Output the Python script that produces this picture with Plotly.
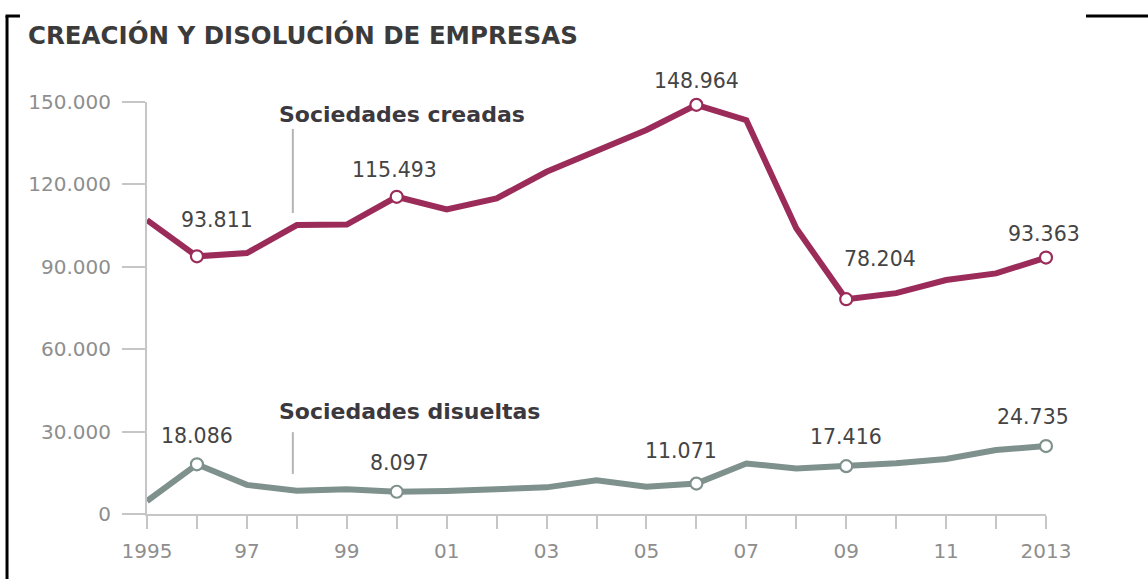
import plotly.graph_objects as go

# ---------------- data ----------------
years = list(range(1995, 2014))
creadas = [107000, 93811, 95000, 105200, 105400, 115493, 110900, 114900, 124600, 132300,
           139800, 148964, 143400, 104000, 78204, 80400, 85200, 87600, 93363]
disueltas = [4700, 18086, 10600, 8500, 9000, 8097, 8400, 9300, 9700, 12300,
             9900, 11071, 18400, 16600, 17416, 18500, 20000, 23300, 24735]
labeled_years = [1996, 2000, 2006, 2009, 2013]

x_tickvals = years
x_ticktext = ["1995", "", "97", "", "99", "", "01", "", "03", "", "05", "", "07", "", "09", "", "11", "", "2013"]
y_tickvals = [0, 30000, 60000, 90000, 120000, 150000]
y_ticktext = ["0", "30.000", "60.000", "90.000", "120.000", "150.000"]

title_text = "CREACIÓN Y DISOLUCIÓN DE EMPRESAS"
name_creadas = "Sociedades creadas"
name_disueltas = "Sociedades disueltas"

# ---------------- styles ----------------
C_CRE = "#9b2c5a"
C_DIS = "#7e918c"
AX = "#c6c6c6"
TICKFONT = dict(family="DejaVu Sans", size=20, color="#8e8e8e")
VALFONT = dict(family="DejaVu Sans", size=20.5, color="#444444")
NAMEFONT = dict(family="DejaVu Sans", size=22, color="#3c393e")

# label offsets (pixels) for value labels, per labeled year
cre_shift = [(20, 36), (-2, 27), (0, 24), (34, 40), (-2, 24)]
dis_shift = [(0, 28), (3, 29), (-15, 33), (0, 29), (-13, 29)]


def fmt(v):
    return f"{v:,}".replace(",", ".")


fig = go.Figure()


def add_series(vals, color, name):
    fig.add_trace(go.Scatter(
        x=years, y=vals, mode="lines", name=name,
        line=dict(color=color, width=6),
        showlegend=False, hoverinfo="skip"))
    lab_vals = [vals[years.index(y)] for y in labeled_years]
    fig.add_trace(go.Scatter(
        x=labeled_years, y=lab_vals, mode="markers", name=name,
        marker=dict(size=12, color="#ffffff", opacity=1, line=dict(color=color, width=2.2)),
        cliponaxis=False, showlegend=False, hoverinfo="skip"))


add_series(creadas, C_CRE, name_creadas)
add_series(disueltas, C_DIS, name_disueltas)

annotations = []
for vals, shifts in ((creadas, cre_shift), (disueltas, dis_shift)):
    for yr, (dx, dy) in zip(labeled_years, shifts):
        v = vals[years.index(yr)]
        annotations.append(dict(x=yr, y=v, xref="x", yref="y", text=fmt(v), showarrow=False,
                                xanchor="center", yanchor="middle", xshift=dx, yshift=dy,
                                font=VALFONT))

# series names
annotations.append(dict(x=1997.6, y=145300, xref="x", yref="y", text=f"<b>{name_creadas}</b>",
                        showarrow=False, xanchor="left", yanchor="middle", font=NAMEFONT))
annotations.append(dict(x=1997.6, y=37300, xref="x", yref="y", text=f"<b>{name_disueltas}</b>",
                        showarrow=False, xanchor="left", yanchor="middle", font=NAMEFONT))

shapes = [
    dict(type="line", xref="x", yref="y", x0=1997.92, x1=1997.92, y0=109600, y1=140200,
         line=dict(color="#b4b4b4", width=2)),
    dict(type="line", xref="x", yref="y", x0=1997.92, x1=1997.92, y0=14600, y1=29800,
         line=dict(color="#b4b4b4", width=2)),
    # frame fragments
    dict(type="line", xref="paper", yref="paper", x0=-0.1557, x1=-0.1557, y0=1.2087, y1=-0.2,
         line=dict(color="black", width=3)),
    dict(type="line", xref="paper", yref="paper", x0=-0.1574, x1=-0.1413, y0=1.2087, y1=1.2087,
         line=dict(color="black", width=3)),
    dict(type="line", xref="paper", yref="paper", x0=1.0445, x1=1.12, y0=1.2087, y1=1.2087,
         line=dict(color="black", width=3)),
]

fig.update_layout(
    width=1148, height=579,
    margin=dict(l=147, r=102, t=102, b=65),
    paper_bgcolor="white", plot_bgcolor="white",
    title=dict(text=f"<b>{title_text}</b>", x=28 / 1148, xref="container", xanchor="left",
               y=1 - 35 / 579, yref="container", yanchor="middle",
               font=dict(family="DejaVu Sans", size=24.5, color="#3b3b3b")),
    annotations=annotations, shapes=shapes,
    xaxis=dict(range=[1995, 2013], tickvals=x_tickvals, ticktext=x_ticktext,
               showgrid=False, zeroline=False, showline=True, linecolor=AX, linewidth=2,
               ticks="outside", ticklen=13, tickwidth=2, tickcolor=AX, tickfont=TICKFONT,
               ticklabelstandoff=5),
    yaxis=dict(range=[0, 150000], tickvals=y_tickvals, ticktext=y_ticktext,
               showgrid=False, zeroline=False, showline=True, linecolor=AX, linewidth=2,
               ticks="outside", ticklen=23, tickwidth=2, tickcolor=AX, tickfont=TICKFONT,
               ticklabelstandoff=7),
)

fig.write_html("out.html", config={"displayModeBar": False},
               post_script="document.body.style.margin='0';document.body.style.overflow='hidden';")
